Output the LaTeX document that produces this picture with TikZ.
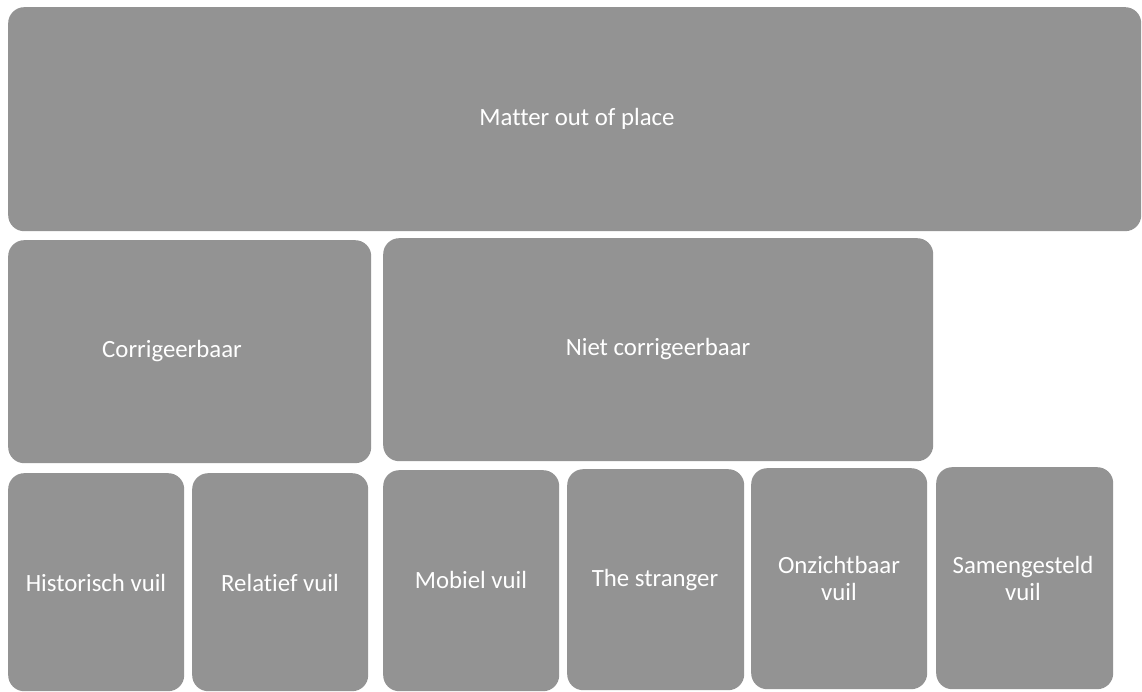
\documentclass[tikz,border=0pt]{standalone}
\usepackage{fontspec}
\setmainfont{Carlito}[Ligatures=NoCommon]
\definecolor{boxgray}{RGB}{147,147,147}
\tikzset{
  tile/.style={fill=boxgray, draw=none, rounded corners=16pt, inner sep=0pt, anchor=north west},
  lbl/.style={text=white, font=\fontsize{24.8}{27}\selectfont, align=center, inner sep=0pt}
}
\begin{document}
\begin{tikzpicture}[x=1pt,y=-1pt]
\useasboundingbox (0,0) rectangle (1142,692);
\fill[white] (0,0) rectangle (1142,692);
\node[tile, minimum width=1133pt, minimum height=224pt] (top) at (8,7) {};
\node[tile, minimum width=363pt, minimum height=223pt] (corr) at (8,240) {};
\node[tile, minimum width=550pt, minimum height=223pt] (niet) at (383,238) {};
\node[tile, minimum width=176pt, minimum height=218pt] (hist) at (8,473) {};
\node[tile, minimum width=176pt, minimum height=218pt] (rel) at (192,473) {};
\node[tile, minimum width=176pt, minimum height=221pt] (mob) at (383,470) {};
\node[tile, minimum width=177pt, minimum height=221pt] (str) at (567,469) {};
\node[tile, minimum width=176pt, minimum height=221pt] (onz) at (751,468) {};
\node[tile, minimum width=177pt, minimum height=222pt] (sam) at (936,467) {};

\node[lbl] (ltop) at (577,119) {Matter out of place};
\node[lbl] (lcorr) at (172,351) {Corrigeerbaar};
\node[lbl] (lniet) at (658,349) {Niet corrigeerbaar};
\node[lbl] (lhist) at (96,583) {Historisch vuil};
\node[lbl] (lrel) at (280,583) {Relatief vuil};
\node[lbl] (lmob) at (471,580) {Mobiel vuil};
\node[lbl] (lstr) at (655,580) {The stranger};
\node[lbl] (lonz) at (839,578) {Onzichtbaar\\vuil};
\node[lbl] (lsam) at (1023,578) {Samengesteld\\vuil};
\end{tikzpicture}
\end{document}
